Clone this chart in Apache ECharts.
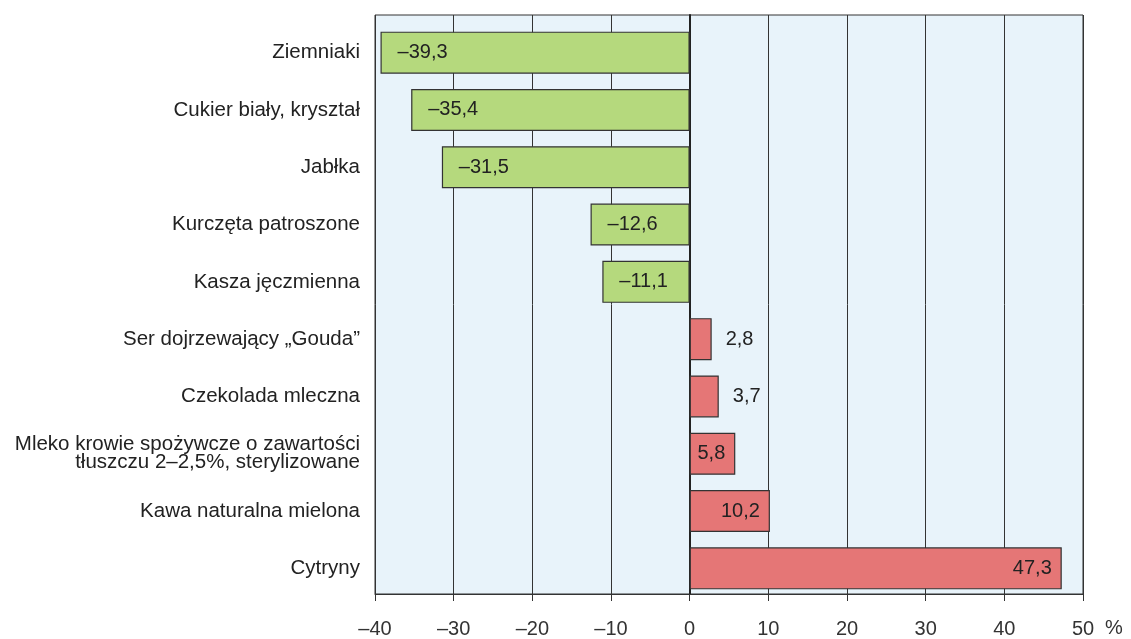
<!DOCTYPE html>
<html>
<head>
<meta charset="utf-8">
<script src="https://cdn.jsdelivr.net/npm/echarts@6/dist/echarts.min.js"></script>
<style>
html, body { margin: 0; padding: 0; background: #fff; }
#chart { width: 1131px; height: 639px; }
</style>
</head>
<body>
<div id="chart"></div>
<script>
var categories = [
    'Ziemniaki',
    'Cukier biały, kryształ',
    'Jabłka',
    'Kurczęta patroszone',
    'Kasza jęczmienna',
    'Ser dojrzewający „Gouda”',
    'Czekolada mleczna',
    'Mleko krowie spożywcze o zawartości\ntłuszczu 2–2,5%, sterylizowane',
    'Kawa naturalna mielona',
    'Cytryny'
];
var values = [-39.3, -35.4, -31.5, -12.6, -11.1, 2.8, 3.7, 5.8, 10.2, 47.3];
var xTicks = { min: -40, max: 50, step: 10 };

// liczby po polsku: przecinek i półpauza zamiast minusa
function fmt(v) {
    return String(v).replace('.', ',').replace('-', '–');
}

var seriesData = values.map(function (v) {
    var pos = v < 0 ? 'insideLeft' : (v < 5 ? 'right' : 'insideRight');
    var dist = pos == 'insideLeft' ? 17 : (pos == 'right' ? 14 : 10);
    return {
        value: v,
        itemStyle: { color: v < 0 ? '#b5d97d' : '#e57676' },
        label: { position: pos, distance: dist }
    };
});

var myChart = echarts.init(document.getElementById('chart'));
var option = {
    animation: false,
    textStyle: { fontFamily: 'Liberation Sans, Arial, sans-serif' },
    // grid 0: ramka, tło, siatka i oś X; grid 1: słupki (trochę węższy w pionie)
    grid: [
        {
            left: 375, right: 48, top: 15, bottom: 38,
            show: true,
            backgroundColor: '#e8f3fa',
            borderColor: '#333',
            borderWidth: 1
        },
        { left: 375, right: 48, top: 24, bottom: 42 }
    ],
    xAxis: [
        {
            gridIndex: 0,
            type: 'value',
            min: xTicks.min,
            max: xTicks.max,
            interval: xTicks.step,
            name: '%',
            nameLocation: 'end',
            nameGap: 22,
            nameTextStyle: { fontSize: 20, color: '#333', verticalAlign: 'top', padding: [24, 0, 0, 0] },
            axisLine: { show: true, lineStyle: { color: '#333', width: 1 } },
            axisTick: { show: true, inside: false, length: 7, lineStyle: { color: '#333' } },
            axisLabel: {
                fontSize: 20, color: '#333', margin: 25,
                formatter: function (v) { return fmt(v); }
            },
            splitLine: { show: true, lineStyle: { color: '#333', width: 1 } }
        },
        {
            gridIndex: 1,
            type: 'value',
            min: xTicks.min,
            max: xTicks.max,
            interval: xTicks.step,
            show: false
        }
    ],
    yAxis: [
        {
            gridIndex: 0,
            type: 'value',
            min: 0,
            max: 1,
            axisLine: { show: true, onZero: true, lineStyle: { color: '#222', width: 2 } },
            axisTick: { show: false },
            axisLabel: { show: false },
            splitLine: { show: false }
        },
        {
            gridIndex: 1,
            type: 'category',
            inverse: true,
            data: categories,
            axisLine: { show: false },
            axisTick: { show: false },
            axisLabel: { fontSize: 20.5, color: '#222', margin: 15, align: 'right', lineHeight: 18 }
        }
    ],
    series: [
        {
            type: 'bar',
            xAxisIndex: 1,
            yAxisIndex: 1,
            data: seriesData,
            barWidth: 42,
            itemStyle: { borderColor: '#333', borderWidth: 1.2 },
            label: {
                show: true,
                fontSize: 20,
                color: '#222',
                formatter: function (p) { return fmt(p.value); }
            }
        }
    ]
};
myChart.setOption(option);
</script>
</body>
</html>
